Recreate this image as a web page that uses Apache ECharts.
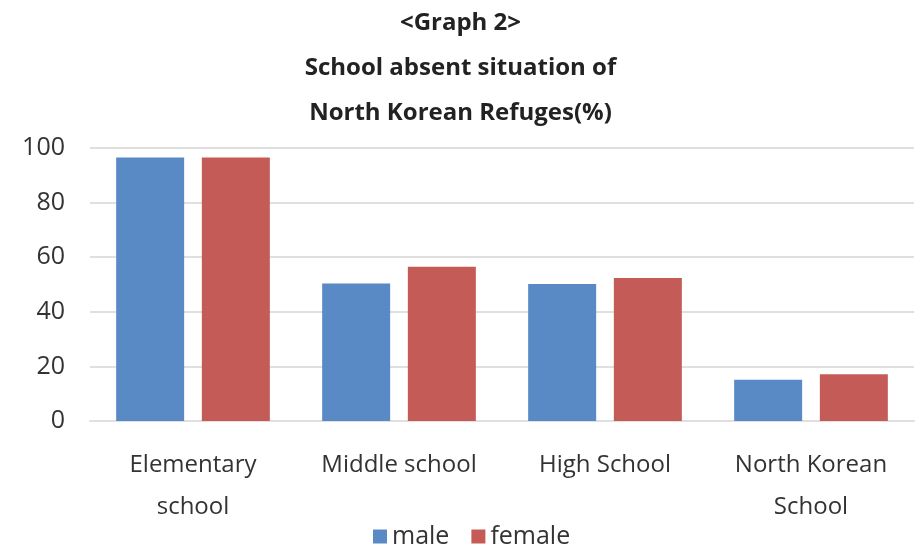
<!DOCTYPE html>
<html>
<head>
<meta charset="utf-8">
<script src="https://cdn.jsdelivr.net/npm/echarts@6/dist/echarts.min.js"></script>
<style>
  html, body { margin: 0; padding: 0; background: #fff; }
  #chart { width: 921px; height: 549px; }
</style>
</head>
<body>
<div id="chart"></div>
<script>
// Data
const categories = ["Elementary\nschool", "Middle school", "High School", "North Korean\nSchool"];
const maleValues = [96.5, 50.4, 50.2, 15.1];
const femaleValues = [96.5, 56.5, 52.4, 17.1];
const yTicks = [0, 20, 40, 60, 80, 100];

const fontFamily = "'Open Sans', 'Noto Sans', sans-serif";

const option = {
  animation: false,
  backgroundColor: "#fff",
  title: {
    text: "<Graph 2>\nSchool absent situation of\nNorth Korean Refuges(%)",
    left: "center",
    top: -4,
    textStyle: {
      fontFamily: fontFamily,
      fontSize: 24,
      fontWeight: "bold",
      color: "#222",
      lineHeight: 45,
    },
  },
  legend: {
    bottom: 0,
    left: 373,
    padding: 0,
    itemWidth: 14,
    itemHeight: 14,
    itemGap: 22,
    icon: "rect",
    textStyle: {
      fontFamily: fontFamily,
      fontSize: 25,
      color: "#333",
    },
  },
  grid: {
    left: 90,
    right: 7,
    top: 148,
    bottom: 128,
  },
  xAxis: {
    type: "category",
    data: categories,
    axisTick: { show: false },
    axisLine: { lineStyle: { color: "#e0e0e0", width: 2 } },
    axisLabel: {
      fontFamily: fontFamily,
      fontSize: 24,
      color: "#333",
      lineHeight: 42,
      margin: 23,
    },
  },
  yAxis: {
    type: "value",
    min: yTicks[0],
    max: yTicks[yTicks.length - 1],
    interval: 20,
    axisLine: { show: false },
    axisTick: { show: false },
    axisLabel: {
      fontFamily: fontFamily,
      fontSize: 25,
      color: "#333",
      margin: 25,
    },
    splitLine: {
      lineStyle: { color: "#e0e0e0", width: 2 },
    },
  },
  series: [
    {
      name: "male",
      type: "bar",
      data: maleValues,
      barWidth: 68,
      barGap: "26%",
      itemStyle: { color: "#5a8ac5" },
    },
    {
      name: "female",
      type: "bar",
      data: femaleValues,
      barWidth: 68,
      itemStyle: { color: "#c55b57" },
    },
  ],
};

const myChart = echarts.init(document.getElementById("chart"));
myChart.setOption(option);
</script>
</body>
</html>
